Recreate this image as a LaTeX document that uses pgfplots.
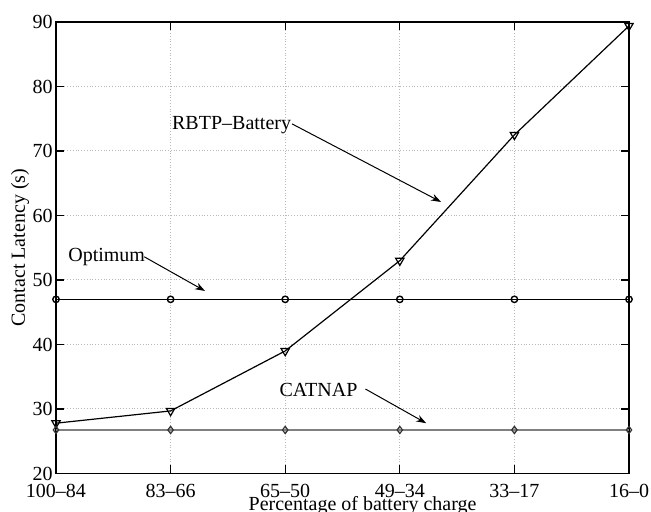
\documentclass[border=0pt]{standalone}
\usepackage{fontspec}
\setmainfont{Liberation Serif}
\usepackage{pgfplots}
\pgfplotsset{compat=1.18}
\usetikzlibrary{arrows.meta,calc}
\begin{document}
\fontsize{10pt}{12pt}\selectfont
\begin{tikzpicture}
\begin{axis}[
  name=ax,
  at={(0,0)}, anchor=south west,
  scale only axis, width=286.5pt, height=225.75pt,
  xmin=0, xmax=5, ymin=20, ymax=90,
  xtick={0,1,2,3,4,5},
  xticklabels={100--84,83--66,65--50,49--34,33--17,16--0},
  ytick={20,30,40,50,60,70,80,90},
  tick align=inside, xtick pos=both, ytick pos=both,
  major tick length=4pt,
  grid=major, major grid style={densely dotted, gray!55, line width=0.5pt},
  axis line style={line width=0.75pt},
  tick style={black, line width=0.6pt},
  /pgf/number format/assume math mode=true,
  ticklabel style={font=\fontsize{10pt}{12pt}\selectfont},
  yticklabel style={xshift=1.8pt},
  xticklabel style={yshift=-2pt},
  ylabel={Contact Latency (s)},
  ylabel style={at={(axis description cs:-0.0628,0.5)}, anchor=center, font=\fontsize{10pt}{12pt}\selectfont},
  xlabel={Percentage of battery charge},
  xlabel style={at={(axis description cs:0.535,-0.083)}, anchor=base, font=\fontsize{10pt}{12pt}\selectfont},
]
\addplot[black, line width=0.6pt, mark=triangle, mark size=2.4pt, mark options={rotate=180, solid, fill=white}]
  coordinates {(0,27.8) (1,29.7) (2,39.0) (3,53.0) (4,72.5) (5,89.4)};
\addplot[black, line width=0.7pt, mark=o, mark size=1.6pt, mark options={solid, fill=white}]
  coordinates {(0,47) (1,47) (2,47) (3,47) (4,47) (5,47)};
\addplot[gray, line width=1.1pt, mark=diamond, mark size=1.8pt, mark options={black!80, line width=0.6pt, solid, fill=white}]
  coordinates {(0,26.75) (1,26.75) (2,26.75) (3,26.75) (4,26.75) (5,26.75)};
\node[anchor=west, inner sep=0pt, font=\fontsize{10pt}{12pt}\selectfont] at (axis cs:1.01,74.0) {RBTP--Battery};
\draw[black, line width=0.5pt, -{Stealth[length=5pt, width=3.5pt]}] (axis cs:2.06,74.2) -- (axis cs:3.36,62.1);
\node[anchor=west, inner sep=0pt, font=\fontsize{10pt}{12pt}\selectfont] at (axis cs:0.104,53.6) {Optimum};
\draw[black, line width=0.5pt, -{Stealth[length=5pt, width=3.5pt]}] (axis cs:0.77,53.6) -- (axis cs:1.30,48.3);
\node[anchor=west, inner sep=0pt, font=\fontsize{10pt}{12pt}\selectfont] at (axis cs:1.948,32.9) {CATNAP};
\draw[black, line width=0.5pt, -{Stealth[length=5pt, width=3.5pt]}] (axis cs:2.70,33.1) -- (axis cs:3.23,27.8);
\end{axis}
\pgfresetboundingbox
\path[use as bounding box] ($(ax.south west)+(-28pt,-19.25pt)$) rectangle ($(ax.north east)+(11pt,11pt)$);
\end{tikzpicture}
\end{document}
